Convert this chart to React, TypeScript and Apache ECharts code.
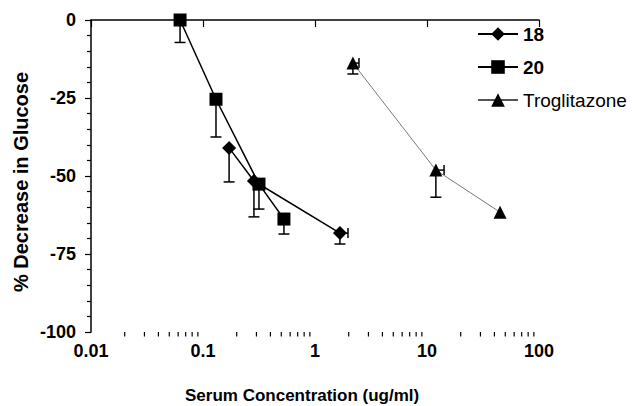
import React, { useEffect, useRef } from "react";
import * as echarts from "echarts";

// Compound 18 (diamonds)
const conc18 = [0.171, 0.285, 1.67];
const val18 = [-41, -51.6, -68.3];
const low18 = [-51.9, -63.1, -71.8];
const xHigh18 = [0.171, 0.285, 1.97];

// Compound 20 (squares)
const conc20 = [0.0624, 0.1306, 0.316, 0.528];
const val20 = [0, -25.4, -52.6, -63.8];
const low20 = [-7.2, -37.5, -60.6, -68.6];
const xHigh20 = [0.0624, 0.1306, 0.316, 0.528];

// Troglitazone (triangles)
const concTrog = [2.18, 12.0, 44.9];
const valTrog = [-13.8, -48.1, -61.6];
const lowTrog = [-17.3, -56.8, -61.6];
const xHighTrog = [2.47, 14.2, 44.9];

const xTickLabels = ["0.01", "0.1", "1", "10", "100"];
const yTickLabels = ["0", "-25", "-50", "-75", "-100"];
const decades = [0.01, 0.1, 1, 10];
const minorMultipliers = [2, 3, 4, 5, 6, 7, 8, 9];

const FONT = "Arial, 'Liberation Sans', Helvetica, sans-serif";

function pts(xs: number[], ys: number[]) {
  return xs.map((x, i) => [x, ys[i]]);
}
function errs(xs: number[], ys: number[], lo: number[], xh: number[]) {
  return xs.map((x, i) => [x, ys[i], lo[i], xh[i]]);
}

const errRender = (params: any, api: any) => {
  const x = api.value(0);
  const y = api.value(1);
  const lo = api.value(2);
  const xh = api.value(3);
  const p = api.coord([x, y]);
  const children: any[] = [];
  const st = { stroke: "#000", lineWidth: 1.5 };
  if (lo < y) {
    const q = api.coord([x, lo]);
    children.push({ type: "line", shape: { x1: p[0], y1: p[1], x2: q[0], y2: q[1] }, style: st });
    children.push({ type: "line", shape: { x1: q[0] - 5.5, y1: q[1], x2: q[0] + 5.5, y2: q[1] }, style: st });
  }
  if (xh > x) {
    const r = api.coord([xh, y]);
    children.push({ type: "line", shape: { x1: p[0], y1: p[1], x2: r[0], y2: r[1] }, style: st });
    children.push({ type: "line", shape: { x1: r[0], y1: r[1] - 5, x2: r[0], y2: r[1] + 5 }, style: st });
  }
  return { type: "group", children };
};

const minorTickRender = (params: any, api: any) => {
  const p = api.coord([api.value(0), -100]);
  return {
    type: "line",
    shape: { x1: p[0], y1: p[1], x2: p[0], y2: p[1] + 4.5 },
    style: { stroke: "#000", lineWidth: 1.2 },
  };
};

export default function App() {
  const ref = useRef<HTMLDivElement>(null);
  useEffect(() => {
    document.body.style.margin = "0";
    const chart = echarts.init(ref.current!, null, { renderer: "svg" });
    const minorTicks: number[][] = [];
    decades.forEach((d) => minorMultipliers.forEach((m) => minorTicks.push([d * m, -100])));
    chart.setOption({
      animation: false,
      backgroundColor: "#fff",
      grid: { left: 91, right: 98, top: 20, bottom: 74, containLabel: false },
      xAxis: {
        type: "log",
        logBase: 10,
        min: 0.01,
        max: 100,
        axisLine: { show: true, lineStyle: { color: "#000", width: 1.5 } },
        axisTick: { show: true, inside: false, length: 7, lineStyle: { color: "#000", width: 1.2 } },
        minorTick: { show: false },
        splitLine: { show: false },
        axisLabel: {
          margin: 10,
          color: "#000",
          fontSize: 18,
          fontWeight: "bold",
          fontFamily: FONT,
          formatter: (v: number) => {
            const i = Math.round(Math.log10(v) + 2);
            return xTickLabels[i] ?? "";
          },
        },
      },
      yAxis: {
        type: "value",
        min: -100,
        max: 0,
        interval: 25,
        axisLine: { show: true, lineStyle: { color: "#000", width: 1.5 } },
        axisTick: { show: true, inside: false, length: 6, lineStyle: { color: "#000", width: 1.2 } },
        minorTick: { show: true, splitNumber: 5, length: 4, lineStyle: { color: "#000", width: 1.2 } },
        splitLine: { show: false },
        axisLabel: {
          margin: 15,
          color: "#000",
          fontSize: 18,
          fontWeight: "bold",
          fontFamily: FONT,
          formatter: (v: number) => {
            const i = Math.round(-v / 25);
            return yTickLabels[i] ?? "";
          },
        },
      },
      legend: {
        orient: "vertical",
        left: 477,
        top: 24,
        padding: 0,
        itemWidth: 40,
        itemHeight: 17,
        itemGap: 13,
        textStyle: { color: "#000", fontSize: 19, fontFamily: FONT, lineHeight: 20 },
        data: [
          { name: "18", textStyle: { fontWeight: "bold" } },
          { name: "20", textStyle: { fontWeight: "bold" } },
          { name: "Troglitazone", textStyle: { fontWeight: "normal" } },
        ],
      },
      graphic: [
        {
          type: "text",
          x: 185,
          y: 395,
          style: {
            text: "Serum Concentration (ug/ml)",
            fontSize: 17,
            fontWeight: "bold",
            fontFamily: FONT,
            fill: "#000",
            align: "left",
            verticalAlign: "middle",
          },
        },
        {
          type: "text",
          x: 21,
          y: 182,
          rotation: Math.PI / 2,
          style: {
            text: "% Decrease in Glucose",
            fontSize: 20,
            fontWeight: "bold",
            fontFamily: FONT,
            fill: "#000",
            align: "center",
            verticalAlign: "middle",
          },
        },
      ],
      series: [
        {
          type: "custom",
          name: "minorTicks",
          renderItem: minorTickRender,
          data: minorTicks,
          encode: { x: 0, y: 1 },
          silent: true,
          z: 1,
        },
        {
          type: "custom",
          name: "err18",
          renderItem: errRender,
          data: errs(conc18, val18, low18, xHigh18),
          encode: { x: 0, y: 1 },
          z: 1,
        },
        {
          type: "custom",
          name: "err20",
          renderItem: errRender,
          data: errs(conc20, val20, low20, xHigh20),
          encode: { x: 0, y: 1 },
          z: 1,
        },
        {
          type: "custom",
          name: "errTrog",
          renderItem: errRender,
          data: errs(concTrog, valTrog, lowTrog, xHighTrog),
          encode: { x: 0, y: 1 },
          z: 1,
        },
        {
          type: "line",
          name: "18",
          data: pts(conc18, val18),
          symbol: "diamond",
          symbolSize: 14,
          itemStyle: { color: "#000" },
          lineStyle: { color: "#000", width: 1.5 },
          z: 3,
        },
        {
          type: "line",
          name: "20",
          data: pts(conc20, val20),
          symbol: "rect",
          symbolSize: 13,
          itemStyle: { color: "#000" },
          lineStyle: { color: "#000", width: 1.5 },
          z: 3,
        },
        {
          type: "line",
          name: "Troglitazone",
          data: pts(concTrog, valTrog),
          symbol: "triangle",
          symbolSize: 13,
          itemStyle: { color: "#000" },
          lineStyle: { color: "#555", width: 0.8 },
          z: 3,
        },
      ],
    });
    return () => chart.dispose();
  }, []);
  return (
    <div
      ref={ref}
      style={{ position: "absolute", left: 0, top: 0, width: 637, height: 406 }}
    />
  );
}
